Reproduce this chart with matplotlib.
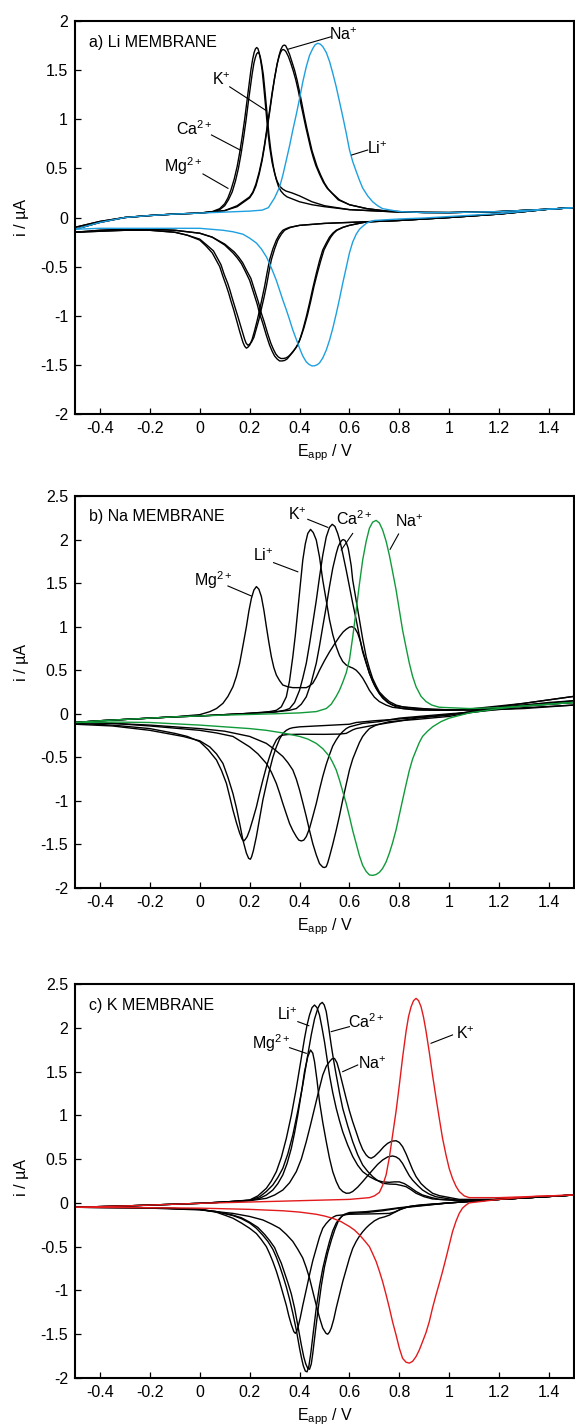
import matplotlib
matplotlib.use("Agg")
import matplotlib.pyplot as plt

plt.rcParams['font.family'] = ['Liberation Sans', 'DejaVu Sans']
plt.rcParams['mathtext.fontset'] = 'custom'
plt.rcParams['mathtext.rm'] = 'Liberation Sans'
plt.rcParams['mathtext.it'] = 'Liberation Sans:italic'

# ---------------- data: (E / V, i / uA) ----------------
# panel a) Li membrane
A_LI_FWD = [(-0.5,-0.12),(-0.4,-0.05),(-0.3,0.0),(-0.2,0.02),(-0.1,0.035),(0.0,0.045),(0.1,0.055),(0.2,0.065),
            (0.25,0.075),(0.275,0.1),(0.3,0.2),(0.32,0.31),(0.333,0.43),(0.347,0.585),(0.36,0.73),(0.373,0.89),
            (0.387,1.05),(0.4,1.21),(0.413,1.38),(0.427,1.535),(0.44,1.65),(0.453,1.72),(0.463,1.76),(0.473,1.773),
            (0.483,1.765),(0.493,1.74),(0.507,1.68),(0.52,1.59),(0.533,1.47),(0.547,1.33),(0.56,1.18),(0.573,1.03),
            (0.587,0.86),(0.6,0.69),(0.613,0.57),(0.627,0.47),(0.64,0.38),(0.653,0.30),(0.673,0.22),(0.693,0.16),
            (0.713,0.12),(0.733,0.09),(0.8,0.06),(0.9,0.05),(1.0,0.05),(1.2,0.06),(1.4,0.085),(1.5,0.1)]
A_LI_REV = [(1.5,0.1),(1.4,0.085),(1.2,0.04),(1.0,0.01),(0.9,-0.005),(0.8,-0.015),(0.733,-0.025),(0.7,-0.03),
            (0.68,-0.045),(0.667,-0.06),(0.653,-0.09),(0.64,-0.12),(0.627,-0.17),(0.613,-0.25),(0.6,-0.36),
            (0.587,-0.51),(0.573,-0.67),(0.56,-0.83),(0.547,-0.98),(0.533,-1.13),(0.52,-1.25),(0.507,-1.35),
            (0.493,-1.43),(0.48,-1.48),(0.47,-1.50),(0.459,-1.51),(0.449,-1.51),(0.438,-1.495),(0.427,-1.47),
            (0.413,-1.41),(0.4,-1.33),(0.387,-1.24),(0.373,-1.145),(0.36,-1.04),(0.347,-0.94),(0.333,-0.84),
            (0.32,-0.74),(0.307,-0.64),(0.293,-0.55),(0.28,-0.47),(0.267,-0.40),(0.247,-0.32),(0.227,-0.26),
            (0.2,-0.21),(0.173,-0.17),(0.133,-0.145),(0.093,-0.13),(0.0,-0.11),(-0.2,-0.11),(-0.4,-0.11),
            (-0.5,-0.12)]
A_CA_FWD = [(-0.5,-0.12),(-0.4,-0.05),(-0.3,0.0),(-0.2,0.02),(-0.1,0.035),(0.0,0.045),(0.05,0.06),(0.08,0.09),
            (0.1,0.14),(0.113,0.2),(0.125,0.28),(0.138,0.39),(0.15,0.52),(0.16,0.66),(0.17,0.82),(0.18,1.0),
            (0.19,1.2),(0.198,1.36),(0.205,1.5),(0.212,1.61),(0.218,1.68),(0.223,1.715),(0.228,1.73),
            (0.233,1.72),(0.238,1.68),(0.244,1.6),(0.25,1.5),(0.257,1.32),(0.265,1.1),(0.272,0.9),(0.28,0.72),
            (0.29,0.56),(0.3,0.45),(0.31,0.37),(0.32,0.32),(0.332,0.29),(0.345,0.27),(0.37,0.25),
            (0.4,0.22),(0.45,0.16),(0.5,0.12),(0.6,0.08),(0.8,0.055),(1.0,0.05),(1.2,0.06),(1.4,0.085),(1.5,0.1)]
A_MG_FWD = [(-0.5,-0.1),(-0.4,-0.04),(-0.3,0.0),(-0.2,0.02),(-0.1,0.035),(0.0,0.045),(0.05,0.055),(0.08,0.08),
            (0.1,0.12),(0.115,0.18),(0.13,0.26),(0.143,0.37),(0.155,0.5),(0.165,0.64),(0.175,0.8),(0.185,0.98),
            (0.195,1.18),(0.203,1.33),(0.21,1.46),(0.217,1.57),(0.223,1.63),(0.228,1.665),(0.233,1.68),
            (0.238,1.67),(0.243,1.63),(0.249,1.55),(0.255,1.45),(0.262,1.27),(0.27,1.05),(0.277,0.85),
            (0.285,0.68),(0.295,0.52),(0.305,0.4),(0.315,0.32),(0.325,0.27),(0.337,0.235),(0.35,0.21),
            (0.38,0.18),(0.4,0.16),(0.45,0.13),(0.5,0.11),(0.6,0.08),(0.8,0.055),(1.0,0.05),(1.2,0.06),
            (1.4,0.085),(1.5,0.1)]
A_K_FWD = [(-0.5,-0.12),(-0.4,-0.05),(-0.3,0.0),(-0.2,0.02),(-0.1,0.035),(0.0,0.045),(0.1,0.07),(0.15,0.11),
           (0.2,0.2),(0.213,0.25),(0.225,0.32),(0.238,0.44),(0.25,0.58),(0.26,0.73),(0.27,0.9),(0.28,1.07),
           (0.29,1.25),(0.3,1.42),(0.31,1.56),(0.318,1.65),(0.325,1.71),(0.332,1.745),(0.338,1.755),
           (0.344,1.75),(0.35,1.72),(0.36,1.66),(0.37,1.58),(0.38,1.5),(0.39,1.4),(0.4,1.28),(0.41,1.15),
           (0.42,1.02),(0.43,0.9),(0.44,0.79),(0.45,0.68),(0.46,0.6),(0.47,0.52),(0.485,0.43),(0.5,0.35),
           (0.515,0.29),(0.53,0.25),(0.56,0.18),(0.6,0.13),(0.67,0.09),(0.75,0.065),(0.9,0.05),(1.0,0.05),
           (1.2,0.06),(1.4,0.085),(1.5,0.1)]
A_NA_FWD = [(-0.5,-0.1),(-0.4,-0.04),(-0.3,0.0),(-0.2,0.02),(-0.1,0.035),(0.0,0.045),(0.1,0.07),(0.15,0.12),
            (0.2,0.21),(0.213,0.26),(0.225,0.34),(0.238,0.46),(0.25,0.6),(0.26,0.75),(0.27,0.92),(0.28,1.09),
            (0.29,1.27),(0.3,1.42),(0.31,1.56),(0.316,1.62),(0.322,1.67),(0.328,1.7),(0.333,1.71),
            (0.339,1.705),(0.345,1.69),(0.355,1.64),(0.365,1.57),(0.375,1.49),(0.385,1.4),(0.395,1.29),
            (0.405,1.16),(0.415,1.04),(0.425,0.92),(0.435,0.81),(0.445,0.7),(0.455,0.61),(0.465,0.53),
            (0.48,0.44),(0.495,0.36),(0.51,0.3),(0.525,0.26),(0.555,0.18),(0.6,0.13),(0.67,0.09),(0.75,0.065),
            (0.9,0.05),(1.0,0.05),(1.2,0.06),(1.4,0.085),(1.5,0.1)]
A_CA_REV = [(1.5,0.1),(1.4,0.085),(1.2,0.035),(1.0,0.0),(0.8,-0.03),(0.6,-0.05),(0.5,-0.06),(0.4,-0.08),
            (0.36,-0.1),(0.345,-0.115),(0.333,-0.13),(0.32,-0.17),(0.307,-0.23),(0.293,-0.32),(0.28,-0.43),
            (0.27,-0.56),(0.26,-0.7),(0.25,-0.82),(0.24,-0.94),(0.23,-1.05),(0.22,-1.15),(0.21,-1.24),
            (0.2,-1.30),(0.193,-1.32),(0.187,-1.33),(0.18,-1.31),(0.173,-1.27),(0.16,-1.16),(0.147,-1.04),
            (0.136,-0.94),(0.125,-0.85),(0.116,-0.77),(0.107,-0.70),(0.093,-0.6),(0.08,-0.5),(0.065,-0.43),
            (0.05,-0.36),(0.025,-0.29),(0.0,-0.23),(-0.05,-0.18),(-0.1,-0.15),(-0.2,-0.13),(-0.3,-0.13),
            (-0.4,-0.14),(-0.5,-0.15)]
A_MG_REV = [(1.5,0.1),(1.4,0.085),(1.2,0.035),(1.0,0.0),(0.8,-0.03),(0.6,-0.05),(0.5,-0.06),(0.4,-0.08),
            (0.365,-0.1),(0.352,-0.115),(0.34,-0.13),(0.327,-0.17),(0.313,-0.23),(0.3,-0.32),(0.287,-0.43),
            (0.277,-0.56),(0.267,-0.7),(0.257,-0.82),(0.247,-0.93),(0.237,-1.04),(0.227,-1.13),(0.217,-1.22),
            (0.207,-1.27),(0.2,-1.29),(0.193,-1.30),(0.186,-1.28),(0.18,-1.24),(0.167,-1.13),(0.153,-1.01),
            (0.142,-0.92),(0.13,-0.82),(0.121,-0.74),(0.112,-0.67),(0.098,-0.58),(0.085,-0.48),(0.07,-0.41),
            (0.055,-0.34),(0.028,-0.28),(0.0,-0.22),(-0.05,-0.18),(-0.1,-0.15),(-0.2,-0.13),(-0.3,-0.13),
            (-0.4,-0.14),(-0.5,-0.15)]
A_K_REV = [(1.5,0.1),(1.4,0.085),(1.2,0.035),(1.0,0.0),(0.8,-0.03),(0.667,-0.045),(0.6,-0.08),(0.573,-0.1),
           (0.547,-0.13),(0.533,-0.16),(0.52,-0.2),(0.507,-0.26),(0.493,-0.33),(0.48,-0.44),(0.467,-0.57),
           (0.453,-0.72),(0.44,-0.87),(0.427,-1.01),(0.413,-1.145),(0.4,-1.25),(0.387,-1.32),(0.373,-1.37),
           (0.36,-1.41),(0.35,-1.44),(0.34,-1.455),(0.33,-1.46),(0.32,-1.46),(0.31,-1.44),(0.30,-1.41),
           (0.29,-1.36),(0.28,-1.30),(0.267,-1.2),(0.253,-1.08),(0.24,-0.98),(0.23,-0.88),(0.215,-0.76),
           (0.2,-0.64),(0.183,-0.55),(0.167,-0.47),(0.15,-0.41),(0.133,-0.36),(0.1,-0.28),(0.05,-0.2),
           (0.0,-0.16),(-0.1,-0.13),(-0.2,-0.12),(-0.3,-0.12),(-0.4,-0.13),(-0.5,-0.15)]
A_NA_REV = [(1.5,0.1),(1.4,0.085),(1.2,0.035),(1.0,0.0),(0.8,-0.03),(0.667,-0.045),(0.6,-0.08),(0.575,-0.1),
            (0.55,-0.13),(0.537,-0.16),(0.525,-0.2),(0.512,-0.26),(0.498,-0.33),(0.485,-0.44),(0.472,-0.56),
            (0.458,-0.7),(0.445,-0.85),(0.432,-0.99),(0.418,-1.12),(0.405,-1.22),(0.392,-1.30),(0.378,-1.35),
            (0.365,-1.39),(0.355,-1.415),(0.345,-1.43),(0.335,-1.435),(0.325,-1.435),(0.315,-1.42),
            (0.305,-1.39),(0.295,-1.34),(0.285,-1.28),(0.272,-1.18),(0.258,-1.06),(0.245,-0.96),(0.235,-0.86),
            (0.22,-0.74),(0.205,-0.62),(0.188,-0.54),(0.172,-0.46),(0.155,-0.4),(0.138,-0.35),(0.1,-0.27),
            (0.05,-0.2),(0.0,-0.16),(-0.1,-0.13),(-0.2,-0.12),(-0.3,-0.12),(-0.4,-0.13),(-0.5,-0.15)]

# panel b) Na membrane
B_NA_FWD = [(-0.5,-0.1),(-0.4,-0.08),(-0.3,-0.065),(-0.2,-0.05),(-0.1,-0.035),(0.0,-0.025),(0.1,-0.015),
            (0.2,-0.008),(0.3,0.0),(0.4,0.01),(0.467,0.025),(0.507,0.06),(0.527,0.11),(0.547,0.2),(0.56,0.27),
            (0.573,0.36),(0.587,0.47),(0.6,0.62),(0.613,0.88),(0.627,1.19),(0.64,1.49),(0.653,1.765),
            (0.667,1.98),(0.68,2.13),(0.693,2.2),(0.707,2.22),(0.72,2.19),(0.733,2.11),(0.747,1.98),(0.76,1.82),
            (0.773,1.63),(0.787,1.42),(0.8,1.19),(0.813,0.96),(0.827,0.76),(0.84,0.58),(0.853,0.43),(0.867,0.31),
            (0.887,0.2),(0.907,0.14),(0.93,0.1),(0.96,0.075),(1.08,0.06),(1.2,0.07),(1.3,0.09),(1.4,0.11),
            (1.5,0.13)]
B_NA_REV = [(1.5,0.13),(1.4,0.11),(1.3,0.09),(1.2,0.06),(1.08,0.01),(1.04,-0.02),(1.0,-0.05),(0.967,-0.09),
            (0.933,-0.15),(0.913,-0.2),(0.893,-0.26),(0.88,-0.33),(0.867,-0.42),(0.853,-0.52),(0.84,-0.65),
            (0.827,-0.81),(0.813,-0.99),(0.8,-1.16),(0.787,-1.33),(0.773,-1.48),(0.76,-1.60),(0.747,-1.70),
            (0.733,-1.775),(0.72,-1.82),(0.707,-1.845),(0.693,-1.855),(0.68,-1.85),(0.667,-1.81),(0.653,-1.74),
            (0.64,-1.63),(0.627,-1.49),(0.613,-1.34),(0.6,-1.18),(0.587,-1.03),(0.573,-0.89),(0.56,-0.76),
            (0.547,-0.645),(0.533,-0.56),(0.52,-0.49),(0.493,-0.40),(0.467,-0.34),(0.433,-0.29),(0.4,-0.26),
            (0.333,-0.22),(0.267,-0.19),(0.2,-0.17),(0.1,-0.15),(0.0,-0.13),(-0.2,-0.10),(-0.35,-0.095),
            (-0.5,-0.1)]
B_MG_FWD = [(-0.5,-0.1),(-0.4,-0.08),(-0.3,-0.065),(-0.2,-0.05),(-0.1,-0.035),(0.0,-0.01),(0.04,0.024),
            (0.067,0.06),(0.093,0.12),(0.113,0.2),(0.133,0.31),(0.147,0.43),(0.16,0.58),(0.173,0.78),(0.187,1.0),
            (0.197,1.18),(0.207,1.325),(0.217,1.42),(0.227,1.46),(0.237,1.43),(0.247,1.345),(0.257,1.19),
            (0.267,1.0),(0.277,0.82),(0.287,0.655),(0.297,0.53),(0.307,0.445),(0.32,0.38),(0.333,0.33),
            (0.353,0.31),(0.373,0.30),(0.4,0.3),(0.427,0.30),(0.44,0.32),(0.453,0.35),(0.467,0.42),(0.48,0.50),
            (0.5,0.61),(0.52,0.71),(0.54,0.8),(0.56,0.885),(0.575,0.94),(0.587,0.97),(0.6,0.995),(0.61,1.0),
            (0.622,0.98),(0.633,0.925),(0.643,0.84),(0.653,0.73),(0.667,0.59),(0.68,0.465),(0.7,0.33),
            (0.72,0.235),(0.74,0.17),(0.76,0.12),(0.787,0.08),(0.813,0.06),(0.9,0.045),(1.0,0.04),(1.1,0.05),
            (1.2,0.07),(1.3,0.1),(1.4,0.13),(1.5,0.15)]
B_LI_FWD = [(-0.5,-0.1),(-0.4,-0.08),(-0.3,-0.065),(-0.2,-0.05),(-0.1,-0.035),(0.0,-0.025),(0.1,-0.01),
            (0.2,0.005),(0.28,0.025),(0.307,0.04),(0.327,0.08),(0.347,0.195),(0.36,0.38),(0.373,0.655),
            (0.383,0.9),(0.393,1.19),(0.403,1.48),(0.413,1.765),(0.423,1.95),(0.433,2.07),(0.444,2.117),
            (0.455,2.08),(0.467,1.995),(0.48,1.8),(0.493,1.535),(0.507,1.3),(0.52,1.08),(0.533,0.91),
            (0.547,0.77),(0.56,0.67),(0.573,0.60),(0.587,0.56),(0.6,0.54),(0.613,0.525),(0.627,0.50),
            (0.64,0.46),(0.653,0.41),(0.667,0.34),(0.68,0.27),(0.7,0.19),(0.72,0.14),(0.747,0.1),(0.773,0.074),
            (0.867,0.043),(1.0,0.04),(1.1,0.06),(1.2,0.09),(1.3,0.12),(1.4,0.16),(1.5,0.2)]
B_K_FWD = [(-0.5,-0.1),(-0.4,-0.08),(-0.3,-0.065),(-0.2,-0.05),(-0.1,-0.035),(0.0,-0.025),(0.1,-0.01),
           (0.2,0.005),(0.3,0.02),(0.34,0.04),(0.36,0.06),(0.38,0.13),(0.4,0.27),(0.413,0.41),(0.427,0.58),
           (0.44,0.8),(0.453,1.04),(0.467,1.3),(0.48,1.57),(0.493,1.82),(0.507,2.03),(0.52,2.14),(0.531,2.175),
           (0.542,2.15),(0.553,2.07),(0.563,1.97),(0.573,1.84),(0.587,1.65),(0.6,1.46),(0.613,1.27),
           (0.627,1.08),(0.64,0.89),(0.653,0.71),(0.667,0.58),(0.68,0.465),(0.693,0.37),(0.707,0.29),
           (0.72,0.23),(0.733,0.18),(0.753,0.13),(0.773,0.10),(0.82,0.075),(0.867,0.06),(1.0,0.045),
           (1.1,0.05),(1.2,0.07),(1.3,0.09),(1.4,0.11),(1.5,0.13)]
B_CA_FWD = [(-0.5,-0.1),(-0.4,-0.08),(-0.3,-0.065),(-0.2,-0.05),(-0.1,-0.035),(0.0,-0.025),(0.1,-0.01),
            (0.2,0.005),(0.3,0.02),(0.36,0.04),(0.387,0.06),(0.407,0.11),(0.427,0.195),(0.447,0.36),
            (0.467,0.58),(0.48,0.78),(0.493,1.0),(0.507,1.23),(0.52,1.46),(0.533,1.67),(0.547,1.84),
            (0.555,1.92),(0.562,1.96),(0.569,1.99),(0.575,2.0),(0.582,1.99),(0.588,1.96),(0.595,1.9),(0.6,1.82),
            (0.607,1.7),(0.613,1.535),(0.627,1.3),(0.64,1.08),(0.653,0.86),(0.667,0.655),(0.68,0.52),
            (0.693,0.405),(0.707,0.32),(0.72,0.25),(0.74,0.19),(0.76,0.14),(0.787,0.1),(0.813,0.08),
            (0.933,0.05),(1.1,0.04),(1.2,0.05),(1.3,0.06),(1.4,0.08),(1.5,0.1)]
B_R1 = [(1.5,0.15),(1.4,0.12),(1.3,0.1),(1.2,0.07),(1.1,0.03),(1.0,-0.015),(0.867,-0.05),(0.787,-0.09),
        (0.7,-0.13),(0.627,-0.17),(0.613,-0.185),(0.6,-0.205),(0.587,-0.225),(0.56,-0.233),(0.5,-0.236),
        (0.4,-0.235),(0.353,-0.238),(0.333,-0.245),(0.32,-0.26),(0.307,-0.30),(0.293,-0.38),(0.28,-0.49),
        (0.267,-0.61),(0.253,-0.76),(0.24,-0.91),(0.227,-1.07),(0.213,-1.21),(0.2,-1.335),(0.19,-1.41),
        (0.183,-1.44),(0.177,-1.46),(0.17,-1.44),(0.16,-1.37),(0.147,-1.25),(0.133,-1.105),(0.12,-0.95),
        (0.107,-0.80),(0.087,-0.65),(0.067,-0.53),(0.033,-0.41),(0.0,-0.32),(-0.05,-0.26),(-0.1,-0.225),
        (-0.2,-0.17),(-0.35,-0.13),(-0.5,-0.11)]
B_R2 = [(1.5,0.2),(1.4,0.16),(1.3,0.12),(1.2,0.08),(1.1,0.03),(1.0,-0.01),(0.8,-0.06),(0.7,-0.08),(0.627,-0.1),
        (0.6,-0.12),(0.5,-0.135),(0.4,-0.15),(0.373,-0.16),(0.36,-0.17),(0.347,-0.19),(0.333,-0.225),
        (0.32,-0.29),(0.307,-0.38),(0.293,-0.5),(0.28,-0.645),(0.267,-0.81),(0.253,-0.99),(0.24,-1.2),
        (0.227,-1.41),(0.215,-1.57),(0.208,-1.64),(0.203,-1.67),(0.196,-1.66),(0.187,-1.60),(0.173,-1.45),
        (0.16,-1.26),(0.147,-1.08),(0.133,-0.915),(0.113,-0.73),(0.093,-0.57),(0.067,-0.46),(0.04,-0.38),
        (0.0,-0.31),(-0.067,-0.26),(-0.2,-0.19),(-0.35,-0.14),(-0.5,-0.12)]
B_R3 = [(1.5,0.13),(1.4,0.11),(1.3,0.09),(1.2,0.06),(1.1,0.02),(1.0,0.0),(0.8,-0.05),(0.72,-0.09),
        (0.653,-0.11),(0.6,-0.15),(0.587,-0.17),(0.573,-0.205),(0.56,-0.245),(0.547,-0.30),(0.533,-0.37),
        (0.52,-0.47),(0.507,-0.58),(0.493,-0.72),(0.48,-0.87),(0.467,-1.03),(0.453,-1.18),(0.44,-1.315),
        (0.427,-1.41),(0.417,-1.45),(0.407,-1.46),(0.397,-1.45),(0.387,-1.41),(0.373,-1.34),(0.36,-1.26),
        (0.347,-1.15),(0.333,-1.03),(0.32,-0.91),(0.307,-0.80),(0.287,-0.67),(0.267,-0.57),(0.233,-0.46),
        (0.2,-0.38),(0.133,-0.26),(0.067,-0.22),(0.0,-0.19),(-0.2,-0.14),(-0.35,-0.11),(-0.5,-0.1)]
B_R4 = [(1.5,0.1),(1.4,0.085),(1.3,0.07),(1.2,0.05),(1.1,0.02),(1.0,-0.03),(0.867,-0.065),(0.76,-0.09),
        (0.733,-0.11),(0.707,-0.13),(0.693,-0.15),(0.68,-0.17),(0.667,-0.21),(0.653,-0.26),(0.64,-0.33),
        (0.627,-0.42),(0.613,-0.52),(0.6,-0.645),(0.587,-0.81),(0.573,-0.99),(0.56,-1.17),(0.547,-1.335),
        (0.533,-1.5),(0.52,-1.64),(0.513,-1.71),(0.507,-1.755),(0.5,-1.765),(0.493,-1.76),(0.48,-1.72),
        (0.467,-1.62),(0.453,-1.49),(0.44,-1.34),(0.427,-1.18),(0.413,-1.02),(0.4,-0.875),(0.387,-0.75),
        (0.373,-0.645),(0.353,-0.56),(0.333,-0.49),(0.3,-0.41),(0.267,-0.34),(0.2,-0.26),(0.1,-0.2),
        (0.0,-0.17),(-0.2,-0.13),(-0.35,-0.11),(-0.5,-0.1)]

# panel c) K membrane
C_K_FWD = [(-0.5,-0.05),(-0.3,-0.035),(-0.1,-0.015),(0.0,-0.005),(0.2,0.01),(0.4,0.025),(0.6,0.04),(0.68,0.06),
           (0.7,0.08),(0.72,0.12),(0.733,0.2),(0.747,0.32),(0.76,0.52),(0.773,0.776),(0.787,1.05),(0.8,1.347),
           (0.813,1.66),(0.827,1.96),(0.837,2.13),(0.847,2.24),(0.857,2.31),(0.867,2.336),(0.877,2.31),
           (0.887,2.24),(0.897,2.12),(0.907,1.96),(0.92,1.72),(0.933,1.46),(0.947,1.2),(0.96,0.966),
           (0.973,0.74),(0.987,0.547),(1.0,0.39),(1.013,0.28),(1.027,0.19),(1.04,0.13),(1.06,0.08),(1.08,0.06),
           (1.2,0.06),(1.35,0.075),(1.5,0.09)]
C_K_REV = [(1.5,0.09),(1.35,0.075),(1.2,0.04),(1.08,0.0),(1.067,-0.025),(1.053,-0.06),(1.04,-0.12),
           (1.027,-0.21),(1.013,-0.33),(1.0,-0.48),(0.987,-0.63),(0.973,-0.785),(0.96,-0.92),(0.947,-1.05),
           (0.933,-1.2),(0.92,-1.356),(0.907,-1.48),(0.893,-1.585),(0.88,-1.68),(0.867,-1.755),(0.853,-1.81),
           (0.84,-1.83),(0.827,-1.82),(0.813,-1.775),(0.8,-1.66),(0.787,-1.51),(0.773,-1.36),(0.76,-1.20),
           (0.747,-1.05),(0.733,-0.90),(0.72,-0.78),(0.707,-0.67),(0.693,-0.58),(0.68,-0.50),(0.66,-0.43),
           (0.64,-0.365),(0.62,-0.31),(0.6,-0.27),(0.567,-0.215),(0.533,-0.176),(0.5,-0.15),(0.467,-0.13),
           (0.4,-0.105),(0.333,-0.09),(0.2,-0.074),(0.0,-0.06),(-0.2,-0.055),(-0.5,-0.05)]
C_LI_FWD = [(-0.5,-0.05),(-0.3,-0.035),(-0.1,-0.015),(0.0,-0.005),(0.1,0.01),(0.2,0.033),(0.233,0.08),
            (0.267,0.167),(0.287,0.25),(0.307,0.357),(0.327,0.52),(0.347,0.737),(0.367,1.0),(0.387,1.31),
            (0.405,1.62),(0.42,1.88),(0.43,2.03),(0.44,2.146),(0.45,2.23),(0.46,2.26),(0.47,2.23),(0.48,2.146),
            (0.49,2.0),(0.5,1.84),(0.51,1.65),(0.52,1.46),(0.533,1.26),(0.547,1.08),(0.56,0.94),(0.573,0.813),
            (0.593,0.66),(0.613,0.53),(0.633,0.43),(0.653,0.357),(0.68,0.3),(0.707,0.26),(0.733,0.24),
            (0.76,0.235),(0.78,0.24),(0.8,0.24),(0.82,0.22),(0.84,0.185),(0.867,0.13),(0.893,0.09),(0.93,0.06),
            (0.96,0.04),(1.08,0.02),(1.2,0.04),(1.35,0.065),(1.5,0.09)]
C_CA_FWD = [(-0.5,-0.05),(-0.3,-0.035),(-0.1,-0.015),(0.0,-0.005),(0.1,0.01),(0.2,0.03),(0.24,0.07),
            (0.267,0.13),(0.293,0.205),(0.313,0.29),(0.333,0.395),(0.353,0.56),(0.373,0.775),(0.393,1.05),
            (0.413,1.347),(0.43,1.64),(0.447,1.92),(0.46,2.1),(0.473,2.22),(0.482,2.27),(0.491,2.29),
            (0.499,2.26),(0.507,2.184),(0.517,2.0),(0.527,1.80),(0.537,1.62),(0.547,1.46),(0.56,1.26),
            (0.573,1.08),(0.593,0.88),(0.613,0.70),(0.633,0.55),(0.653,0.433),(0.673,0.36),(0.693,0.30),
            (0.713,0.255),(0.733,0.224),(0.76,0.215),(0.787,0.212),(0.807,0.2),(0.827,0.185),(0.847,0.15),
            (0.867,0.11),(0.9,0.07),(0.933,0.045),(1.08,0.02),(1.2,0.04),(1.35,0.065),(1.5,0.09)]
C_MG_FWD = [(-0.5,-0.05),(-0.3,-0.035),(-0.1,-0.015),(0.0,-0.005),(0.1,0.01),(0.2,0.03),(0.24,0.052),
            (0.267,0.09),(0.293,0.147),(0.313,0.22),(0.333,0.32),(0.35,0.45),(0.367,0.623),(0.38,0.8),
            (0.393,1.004),(0.407,1.25),(0.42,1.50),(0.433,1.67),(0.444,1.746),(0.453,1.71),(0.46,1.613),
            (0.47,1.4),(0.48,1.156),(0.493,0.92),(0.507,0.70),(0.52,0.51),(0.533,0.357),(0.547,0.245),
            (0.56,0.167),(0.573,0.13),(0.587,0.11),(0.6,0.112),(0.613,0.13),(0.633,0.18),(0.653,0.243),
            (0.673,0.31),(0.693,0.376),(0.713,0.44),(0.733,0.49),(0.753,0.525),(0.773,0.536),(0.787,0.525),
            (0.8,0.50),(0.813,0.45),(0.827,0.376),(0.84,0.31),(0.853,0.26),(0.873,0.2),(0.893,0.147),
            (0.92,0.1),(0.947,0.07),(1.027,0.033),(1.2,0.04),(1.35,0.065),(1.5,0.09)]
C_NA_FWD = [(-0.5,-0.05),(-0.3,-0.035),(-0.1,-0.015),(0.0,-0.005),(0.1,0.01),(0.2,0.025),(0.267,0.052),
            (0.3,0.09),(0.333,0.147),(0.36,0.23),(0.387,0.357),(0.407,0.5),(0.427,0.70),(0.443,0.88),
            (0.46,1.08),(0.477,1.28),(0.493,1.46),(0.507,1.56),(0.52,1.613),(0.53,1.645),(0.54,1.65),
            (0.55,1.6),(0.56,1.50),(0.573,1.35),(0.587,1.19),(0.6,1.05),(0.613,0.927),(0.627,0.81),(0.64,0.70),
            (0.653,0.61),(0.667,0.547),(0.677,0.52),(0.687,0.51),(0.7,0.53),(0.72,0.585),(0.737,0.64),
            (0.753,0.68),(0.77,0.705),(0.787,0.71),(0.8,0.69),(0.813,0.642),(0.827,0.56),(0.84,0.47),
            (0.853,0.38),(0.867,0.30),(0.887,0.22),(0.907,0.167),(0.933,0.11),(0.96,0.083),(1.04,0.04),
            (1.2,0.04),(1.35,0.065),(1.5,0.09)]
C_R1 = [(1.5,0.09),(1.35,0.065),(1.2,0.04),(1.0,0.0),(0.9,-0.02),(0.84,-0.04),(0.82,-0.06),(0.8,-0.08),
        (0.78,-0.105),(0.76,-0.12),(0.7,-0.125),(0.6,-0.13),(0.547,-0.145),(0.533,-0.165),(0.52,-0.195),
        (0.507,-0.235),(0.493,-0.29),(0.48,-0.39),(0.467,-0.52),(0.453,-0.66),(0.44,-0.82),(0.427,-0.99),
        (0.413,-1.17),(0.403,-1.31),(0.393,-1.43),(0.388,-1.47),(0.383,-1.49),(0.377,-1.47),(0.367,-1.39),
        (0.357,-1.29),(0.347,-1.17),(0.333,-1.03),(0.32,-0.90),(0.307,-0.78),(0.293,-0.67),(0.28,-0.58),
        (0.267,-0.50),(0.247,-0.42),(0.227,-0.35),(0.2,-0.29),(0.167,-0.23),(0.133,-0.175),(0.1,-0.14),
        (0.067,-0.107),(0.0,-0.073),(-0.2,-0.055),(-0.5,-0.05)]
C_R2 = [(1.5,0.09),(1.35,0.065),(1.2,0.04),(1.0,0.0),(0.867,-0.04),(0.8,-0.06),(0.733,-0.09),(0.667,-0.11),
        (0.6,-0.12),(0.587,-0.13),(0.573,-0.145),(0.56,-0.18),(0.547,-0.23),(0.533,-0.32),(0.52,-0.44),
        (0.507,-0.58),(0.493,-0.75),(0.48,-0.95),(0.467,-1.2),(0.455,-1.48),(0.445,-1.72),(0.437,-1.87),
        (0.43,-1.93),(0.423,-1.92),(0.415,-1.86),(0.407,-1.76),(0.4,-1.66),(0.387,-1.45),(0.373,-1.26),
        (0.36,-1.1),(0.347,-0.96),(0.333,-0.83),(0.32,-0.72),(0.307,-0.62),(0.293,-0.53),(0.273,-0.44),
        (0.253,-0.37),(0.227,-0.29),(0.2,-0.23),(0.167,-0.18),(0.133,-0.145),(0.067,-0.10),(0.0,-0.075),
        (-0.2,-0.055),(-0.5,-0.05)]
C_R3 = [(1.5,0.09),(1.35,0.065),(1.2,0.04),(1.0,0.0),(0.867,-0.035),(0.8,-0.055),(0.733,-0.08),(0.667,-0.1),
        (0.6,-0.11),(0.59,-0.12),(0.58,-0.13),(0.567,-0.16),(0.555,-0.21),(0.542,-0.3),(0.528,-0.42),
        (0.513,-0.57),(0.5,-0.73),(0.487,-0.95),(0.475,-1.2),(0.463,-1.48),(0.453,-1.72),(0.447,-1.84),
        (0.44,-1.90),(0.433,-1.89),(0.425,-1.84),(0.417,-1.76),(0.407,-1.62),(0.393,-1.40),(0.38,-1.2),
        (0.367,-1.04),(0.353,-0.91),(0.34,-0.8),(0.327,-0.69),(0.313,-0.6),(0.3,-0.51),(0.28,-0.43),
        (0.26,-0.36),(0.233,-0.28),(0.2,-0.22),(0.167,-0.17),(0.133,-0.14),(0.067,-0.10),(0.0,-0.075),
        (-0.2,-0.055),(-0.5,-0.05)]
C_R4 = [(1.5,0.09),(1.35,0.065),(1.2,0.04),(1.0,0.0),(0.867,-0.03),(0.847,-0.04),(0.827,-0.05),(0.807,-0.07),
        (0.787,-0.10),(0.773,-0.12),(0.76,-0.14),(0.74,-0.16),(0.72,-0.175),(0.7,-0.205),(0.68,-0.25),
        (0.667,-0.285),(0.653,-0.33),(0.64,-0.38),(0.627,-0.44),(0.613,-0.52),(0.6,-0.63),(0.587,-0.76),
        (0.573,-0.90),(0.56,-1.05),(0.547,-1.20),(0.537,-1.33),(0.527,-1.43),(0.52,-1.475),(0.513,-1.50),
        (0.506,-1.49),(0.493,-1.43),(0.48,-1.31),(0.467,-1.17),(0.453,-1.01),(0.44,-0.86),(0.427,-0.74),
        (0.413,-0.63),(0.393,-0.53),(0.373,-0.44),(0.347,-0.36),(0.32,-0.29),(0.287,-0.24),(0.253,-0.195),
        (0.2,-0.155),(0.133,-0.12),(0.0,-0.08),(-0.2,-0.06),(-0.5,-0.05)]

X_TICKS = [-0.4, -0.2, 0, 0.2, 0.4, 0.6, 0.8, 1, 1.2, 1.4]
X_TICK_LABELS = ['-0.4', '-0.2', '0', '0.2', '0.4', '0.6', '0.8', '1', '1.2', '1.4']
Y_TICKS_A = [-2, -1.5, -1, -0.5, 0, 0.5, 1, 1.5, 2]
Y_TICK_LABELS_A = ['-2', '-1.5', '-1', '-0.5', '0', '0.5', '1', '1.5', '2']
Y_TICKS_BC = [-2, -1.5, -1, -0.5, 0, 0.5, 1, 1.5, 2, 2.5]
Y_TICK_LABELS_BC = ['-2', '-1.5', '-1', '-0.5', '0', '0.5', '1', '1.5', '2', '2.5']

PANEL_TITLES = ['a) Li MEMBRANE', 'b) Na MEMBRANE', 'c) K MEMBRANE']

BLUE = '#1ea0e0'
GREEN = '#119a3a'
RED = '#e31a1c'
FS = 11.5

W, H = 575, 1425
fig = plt.figure(figsize=(W / 100, H / 100), dpi=100)

def axes_px(top, bottom, left=75, right=574):
    return fig.add_axes([left / W, 1 - bottom / H, (right - left) / W, (bottom - top) / H])

ax_a = axes_px(21, 414)
ax_b = axes_px(496, 888)
ax_c = axes_px(984, 1378)

def draw(ax, curve, color):
    xs = [p[0] for p in curve]
    ys = [p[1] for p in curve]
    ax.plot(xs, ys, color=color, lw=1.0, solid_joinstyle='round', solid_capstyle='round')

def style(ax, ylim, yt, ytl, title, ylab_y):
    ax.set_xlim(-0.5, 1.5)
    ax.set_ylim(*ylim)
    ax.set_xticks(X_TICKS)
    ax.set_xticklabels(X_TICK_LABELS)
    ax.set_yticks(yt)
    ax.set_yticklabels(ytl)
    ax.tick_params(direction='in', length=4, width=0.9, labelsize=FS, pad=5,
                   top=False, right=False, colors='black')
    for s in ax.spines.values():
        s.set_linewidth(1.5)
    ax.set_ylabel('i / \u00b5A', fontsize=FS)
    ax.yaxis.set_label_coords(-0.093, ylab_y)
    ax.set_xlabel('E$_{\\mathregular{app}}$ / V', fontsize=FS, labelpad=5)
    ax.text(-0.445, ylim[1] - 0.215 if ylim[1] == 2 else ylim[1] - 0.24, title, fontsize=FS,
            ha='left', va='center')

def label(ax, txt, pos, start, end):
    ax.text(pos[0], pos[1], txt, fontsize=FS, ha='center', va='center')
    ax.plot([start[0], end[0]], [start[1], end[1]], color='black', lw=0.8)

# ---- panel a
for c in [A_CA_FWD, A_MG_FWD, A_K_FWD, A_NA_FWD, A_CA_REV, A_MG_REV, A_K_REV, A_NA_REV]:
    draw(ax_a, c, 'black')
draw(ax_a, A_LI_FWD, BLUE)
draw(ax_a, A_LI_REV, BLUE)
style(ax_a, (-2, 2), Y_TICKS_A, Y_TICK_LABELS_A, PANEL_TITLES[0], 0.5)
label(ax_a, 'Na$^{\\mathregular{+}}$', (0.575, 1.86), (0.527, 1.84), (0.353, 1.712))
label(ax_a, 'K$^{\\mathregular{+}}$', (0.085, 1.40), (0.12, 1.33), (0.267, 1.087))
label(ax_a, 'Ca$^{\\mathregular{2+}}$', (-0.02, 0.907), (0.047, 0.84), (0.167, 0.68))
label(ax_a, 'Mg$^{\\mathregular{2+}}$', (-0.067, 0.518), (0.013, 0.443), (0.113, 0.297))
label(ax_a, 'Li$^{\\mathregular{+}}$', (0.71, 0.704), (0.673, 0.687), (0.609, 0.636))

# ---- panel b
for c in [B_MG_FWD, B_LI_FWD, B_K_FWD, B_CA_FWD, B_R1, B_R2, B_R3, B_R4]:
    draw(ax_b, c, 'black')
draw(ax_b, B_NA_FWD, GREEN)
draw(ax_b, B_NA_REV, GREEN)
style(ax_b, (-2, 2.5), Y_TICKS_BC, Y_TICK_LABELS_BC, PANEL_TITLES[1], 0.574)
label(ax_b, 'K$^{\\mathregular{+}}$', (0.393, 2.28), (0.433, 2.232), (0.513, 2.14))
label(ax_b, 'Ca$^{\\mathregular{2+}}$', (0.62, 2.243), (0.613, 2.07), (0.567, 1.88))
label(ax_b, 'Na$^{\\mathregular{+}}$', (0.84, 2.205), (0.797, 2.064), (0.763, 1.888))
label(ax_b, 'Li$^{\\mathregular{+}}$', (0.256, 1.81), (0.296, 1.735), (0.393, 1.63))
label(ax_b, 'Mg$^{\\mathregular{2+}}$', (0.053, 1.535), (0.113, 1.467), (0.207, 1.352))

# ---- panel c
for c in [C_LI_FWD, C_CA_FWD, C_MG_FWD, C_NA_FWD, C_R1, C_R2, C_R3, C_R4]:
    draw(ax_c, c, 'black')
draw(ax_c, C_K_FWD, RED)
draw(ax_c, C_K_REV, RED)
style(ax_c, (-2, 2.5), Y_TICKS_BC, Y_TICK_LABELS_BC, PANEL_TITLES[2], 0.508)
label(ax_c, 'Li$^{\\mathregular{+}}$', (0.349, 2.146), (0.393, 2.07), (0.437, 2.024))
label(ax_c, 'Ca$^{\\mathregular{2+}}$', (0.667, 2.07), (0.6, 2.013), (0.527, 1.956))
label(ax_c, 'Mg$^{\\mathregular{2+}}$', (0.287, 1.82), (0.36, 1.773), (0.427, 1.708))
label(ax_c, 'Na$^{\\mathregular{+}}$', (0.693, 1.594), (0.633, 1.575), (0.573, 1.499))
label(ax_c, 'K$^{\\mathregular{+}}$', (1.065, 1.93), (1.013, 1.918), (0.927, 1.823))

fig.savefig('out.png', dpi=100)
